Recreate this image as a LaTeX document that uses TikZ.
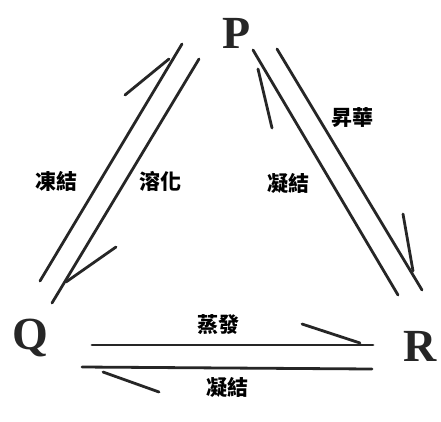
\documentclass[tikz,border=0pt]{standalone}
\usepackage{fontspec}
\setmainfont{Liberation Serif}
\newfontfamily\cjk{Noto Sans CJK TC}
\begin{document}
\begin{tikzpicture}[x=1pt,y=-1pt,
  letter/.style={font=\bfseries\fontsize{46}{46}\selectfont, text=black!85, inner sep=0pt},
  lab/.style={font=\cjk\bfseries\fontsize{21}{21}\selectfont, text=black, inner sep=0pt},
  ln/.style={draw=black!85, line width=2.8pt, line cap=round}]
\useasboundingbox (0,0) rectangle (441,421);
\fill[white] (0,0) rectangle (441,421);
% vertices
\node[letter] (P) at (237,33) {P};
\node[letter] (Q) at (30,338) {Q};
\node[letter] (R) at (420,346) {R};
% endpoints
\coordinate (a1) at (40,281);  \coordinate (a2) at (182,44);  \coordinate (ab) at (125,95);  \coordinate (aj) at (169,59);
\coordinate (b1) at (199,59);  \coordinate (b2) at (52,303);  \coordinate (bb) at (116,247); \coordinate (bj) at (66,282);
\coordinate (c1) at (398,295); \coordinate (c2) at (253,50);  \coordinate (cb) at (272,128); \coordinate (cj) at (258,69);
\coordinate (d1) at (277,49);  \coordinate (d2) at (422,290); \coordinate (db) at (403,214); \coordinate (dj) at (413,271);
\coordinate (e1) at (92,345);  \coordinate (e2) at (373,345); \coordinate (eb) at (302,324); \coordinate (ej) at (360,343);
\coordinate (f1) at (372,369); \coordinate (f2) at (82,367);  \coordinate (fb) at (159,392); \coordinate (fj) at (103,372);
% connectors
\draw[ln] (a1) -- (a2); \draw[ln] (ab) -- (aj);
\draw[ln] (b1) -- (b2); \draw[ln] (bb) -- (bj);
\draw[ln] (c1) -- (c2); \draw[ln] (cb) -- (cj);
\draw[ln] (d1) -- (d2); \draw[ln] (db) -- (dj);
\draw[ln] (e1) -- (e2); \draw[ln] (eb) -- (ej);
\draw[ln] (f1) -- (f2); \draw[ln] (fb) -- (fj);
% labels
\node[lab] (l1) at (56,181) {凍結};
\node[lab] (l2) at (160,181) {溶化};
\node[lab] (l3) at (352,118) {昇華};
\node[lab] (l4) at (288,183) {凝結};
\node[lab] (l5) at (218,325) {蒸發};
\node[lab] (l6) at (227,387) {凝結};
\end{tikzpicture}
\end{document}
